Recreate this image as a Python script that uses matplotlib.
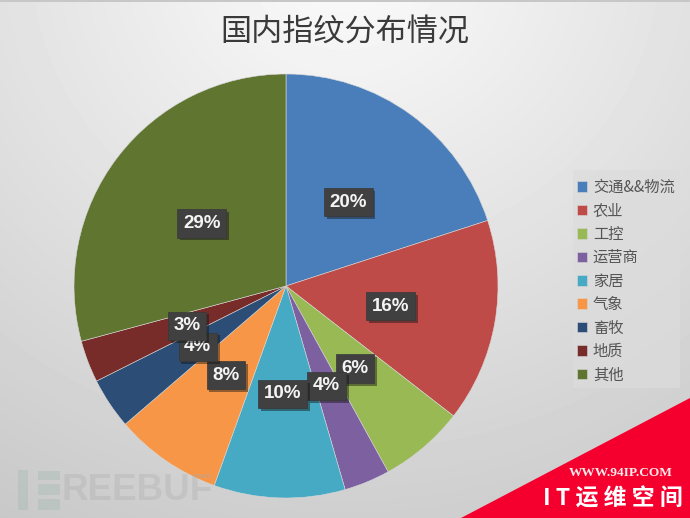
#!/usr/bin/env python3
# -*- coding: utf-8 -*-
import numpy as np
from matplotlib import pyplot as plt
from matplotlib import patches
from matplotlib import patheffects as pe

plt.rcParams['font.family'] = ['Noto Sans CJK SC', 'DejaVu Sans']

# =============================================================================
# DATA
# =============================================================================
categories = ['交通&&物流', '农业', '工控', '运营商', '家居', '气象', '畜牧', '地质', '其他']
shares = [20, 15.5, 6.5, 3.5, 10, 8.2, 3.9, 3.2, 29.2]
colors = ['#4a7ebb', '#be4b48', '#98b954', '#7d60a0', '#46aac5', '#f79646',
          '#2c4d75', '#772c2a', '#5f7530']
title = '国内指纹分布情况'

W, H = 690, 518

fig = plt.figure(figsize=(W/100, H/100), dpi=100)
ax = fig.add_axes([0, 0, 1, 1])

# background gradient, light at the top, grey in the corners
yy, xx = np.mgrid[0:H, 0:W]
dist = np.sqrt(((xx-345)/520.0)**2 + ((yy+40)/480.0)**2)
bg = np.clip(0.985 - 0.15*dist, 0, 1)
bg[:2, :] = 0.78  # thin grey line along the top
ax.imshow(bg, cmap='gray', vmin=0, vmax=1, extent=[0, W, 0, H], zorder=0)

# pie, clockwise from 12 o'clock, labels sit halfway along the radius
wedges, _, autotexts = ax.pie(shares, colors=colors, startangle=90, counterclock=False,
                              center=(286, H-286), radius=212, frame=True,
                              autopct='%.0f%%', pctdistance=0.5,
                              wedgeprops={'edgecolor': '#d8d8d8', 'linewidth': 0.4})
for t in autotexts:
    t.set_family('Liberation Sans')
    t.set_fontweight('bold')
    t.set_fontsize(13.5)
    t.set_color('#f4f4f4')
    t.set_va('center_baseline')
    t.set_bbox(dict(boxstyle='square,pad=0.3', fc='#404040', ec='#383838', lw=0.5))
    t.get_bbox_patch().set_path_effects([pe.SimplePatchShadow(offset=(2, -2), alpha=0.45),
                                         pe.Normal()])

ax.set_xlim(0, W)
ax.set_ylim(0, H)
ax.axis('off')

ax.text(345, H-33, title, ha='center', va='center', fontsize=22.4, color='#3a3a3a')

# legend, its panel is drawn separately
ax.add_patch(patches.Rectangle((573, H-388), 107, 218, fc='#dcdcdc', ec='none', alpha=0.7, zorder=3))
leg = ax.legend(wedges, categories, loc='upper left', bbox_to_anchor=(577/W, 1-179/H),
                bbox_transform=fig.transFigure, fontsize=11, frameon=False,
                handlelength=0.68, handleheight=0.68, handletextpad=0.36, labelspacing=0.42,
                borderpad=0, borderaxespad=0, labelcolor='#555555')
leg.set_zorder(4)

# FREEBUF watermark
wm = '#9fb8ae'
ax.add_patch(patches.Rectangle((18, H-510), 10, 40, color=wm, alpha=0.35, lw=0, zorder=5))
ax.add_patch(patches.Rectangle((38, H-480), 22, 9, color=wm, alpha=0.35, lw=0, zorder=5))
ax.add_patch(patches.Rectangle((38, H-495), 22, 11, color=wm, alpha=0.35, lw=0, zorder=5))
ax.add_patch(patches.Rectangle((38, H-510), 22, 11, color=wm, alpha=0.35, lw=0, zorder=5))
ax.text(62, H-491, 'REEBUF', ha='left', va='center', family='Liberation Sans', fontweight='bold',
        fontsize=26.5, color='#a8a8a8', alpha=0.3, zorder=5)

# red corner banner
ax.add_patch(patches.Polygon([(461, 0), (W, 0), (W, H-398)], closed=True, fc='#f5002e', ec='none', zorder=6))
ax.text(621, H-473, 'WWW.94IP.COM', ha='center', va='center', family='Liberation Serif',
        fontweight='bold', fontsize=9.6, color='#fbeaea', zorder=7)
ax.text(613, H-499, 'I T 运 维 空 间', ha='center', va='center', fontweight='bold',
        fontsize=16.5, color='white', zorder=7)

fig.savefig('out.png', dpi=100)
